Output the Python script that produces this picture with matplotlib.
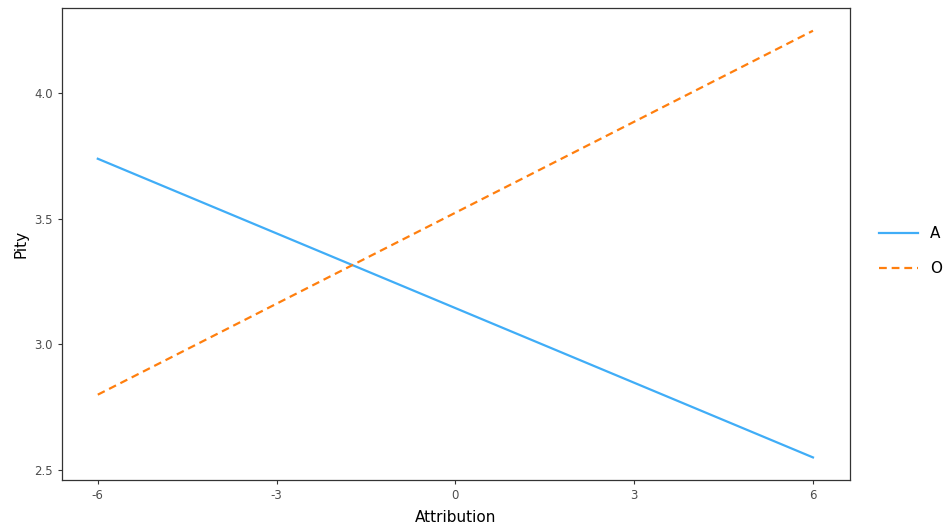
import numpy as np
import matplotlib.pyplot as plt

attribution = [-6, 6]
pity_a = [3.74, 2.55]
pity_o = [2.80, 4.25]
xticks = [-6, -3, 0, 3, 6]
yticks = [2.5, 3.0, 3.5, 4.0]

fig = plt.figure(figsize=(9.47, 5.29), dpi=100)
ax = fig.add_axes([0.0655, 0.0926, 0.832, 0.892])

ax.plot(attribution, pity_a, color='#40adf7', lw=1.6, label='A')
ax.plot(attribution, pity_o, color='#ff7f0e', lw=1.6, ls=(0, (3.5, 2.2)), label='O')

ax.set_xlim(-6.6, 6.62)
ax.set_ylim(2.46, 4.34)
ax.set_xticks(xticks)
ax.set_xticklabels([str(t) for t in xticks])
ax.set_yticks(yticks)
ax.set_yticklabels(['%.1f' % t for t in yticks])
ax.tick_params(colors='#333333', labelcolor='#4d4d4d', labelsize=8.5, length=3, width=0.8)
for s in ax.spines.values():
    s.set_color('#333333')
    s.set_linewidth(0.9)

ax.set_xlabel('Attribution', fontsize=11, labelpad=6)
ax.set_ylabel('Pity', fontsize=11, labelpad=4)

leg = ax.legend(loc='center left', bbox_to_anchor=(1.02, 0.485), frameon=False,
                fontsize=11, handlelength=2.5, handletextpad=0.8, labelspacing=1.3)

fig.savefig('out.png', dpi=100)
